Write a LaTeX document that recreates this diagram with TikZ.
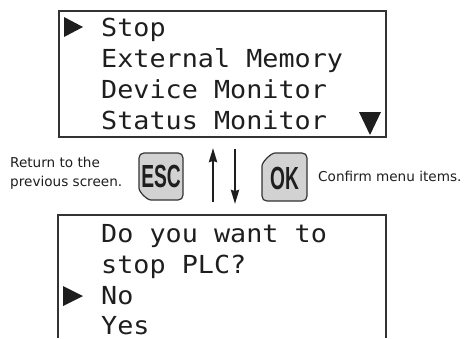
\documentclass[tikz,border=0pt]{standalone}
\usepackage{fontspec}
\usetikzlibrary{arrows.meta}
\newfontfamily\lcdfont[FakeStretch=1.08]{DejaVu Sans Mono}
\newfontfamily\notefont{DejaVu Sans}
\newfontfamily\keyfont[FakeStretch=0.6]{Liberation Sans}
\definecolor{frame}{HTML}{333333}
\definecolor{ink}{HTML}{1E1E1E}
\definecolor{keyfill}{HTML}{D2D2D2}
\begin{document}
\begin{tikzpicture}[x=1pt,y=-1pt,
  screen/.style={draw=frame, line width=1.5pt},
  lcd/.style={font=\lcdfont\fontsize{24.8}{24.8}\selectfont, anchor=base west, inner sep=0pt, text=ink},
  note/.style={font=\notefont\fontsize{13.6}{19}\selectfont, align=left, inner sep=0pt, text=ink},
  pointer/.style={fill=ink, draw=none},
  keybox/.style={draw=frame, fill=keyfill, line width=1.2pt},
  keylabel/.style={font=\keyfont\bfseries\fontsize{32}{32}\selectfont, inner sep=0pt, text=ink},
  navarrow/.style={draw=ink, line width=2.3pt, -{Stealth[length=14pt,width=8pt,inset=1pt]}}]
\useasboundingbox (0,0) rectangle (465,338);
% top screen
\draw[screen] (59,11) rectangle (386,137);
\fill[pointer] (64,17) -- (83,27) -- (64,37) -- cycle;
\node[lcd] (stop) at (101,36) {Stop};
\node[lcd] (extmem) at (101,67) {External Memory};
\node[lcd] (devmon) at (101,98) {Device Monitor};
\node[lcd] (statmon) at (101,129) {Status Monitor};
\fill[pointer] (359,112) -- (381,112) -- (370,135) -- cycle;
% bottom screen (cut off at the bottom)
\draw[screen] (58,338) -- (58,215) -- (386,215) -- (386,338);
\node[lcd] (q1) at (101,242) {Do you want to};
\node[lcd] (q2) at (101,273) {stop PLC?};
\fill[pointer] (63,286) -- (83,296) -- (63,306) -- cycle;
\node[lcd] (no) at (101,304) {No};
\node[lcd] (yes) at (101,334.5) {Yes};
% keys
\draw[keybox] (144,153) -- (178,153) .. controls (181,153) and (183,155) .. (183,158)
  -- (183,195) .. controls (183,198) and (181,200) .. (178,200)
  -- (151,200) .. controls (147,200) and (139,192) .. (139,188)
  -- (139,158) .. controls (139,155) and (141,153) .. (144,153) -- cycle;
\node[keylabel] (esc) at (161,176.5) {ESC};
\draw[keybox] (262,166) .. controls (262,162) and (271,153) .. (275,153)
  -- (302,153) .. controls (305,153) and (307,155) .. (307,158)
  -- (307,196) .. controls (307,199) and (305,201) .. (302,201)
  -- (267,201) .. controls (264,201) and (262,199) .. (262,196) -- cycle;
\node[keylabel] (ok) at (284.5,178) {OK};
% navigation arrows
\coordinate (upfrom) at (213,202);
\coordinate (upto) at (213,148);
\coordinate (downfrom) at (235,149);
\coordinate (downto) at (235,204);
\draw[navarrow] (upfrom) -- (upto);
\draw[navarrow] (downfrom) -- (downto);
% notes
\node[note, anchor=west] (escnote) at (10,173) {Return to the\\previous screen.};
\node[note, anchor=base west] (oknote) at (318,181) {Confirm menu items.};
\end{tikzpicture}
\end{document}
